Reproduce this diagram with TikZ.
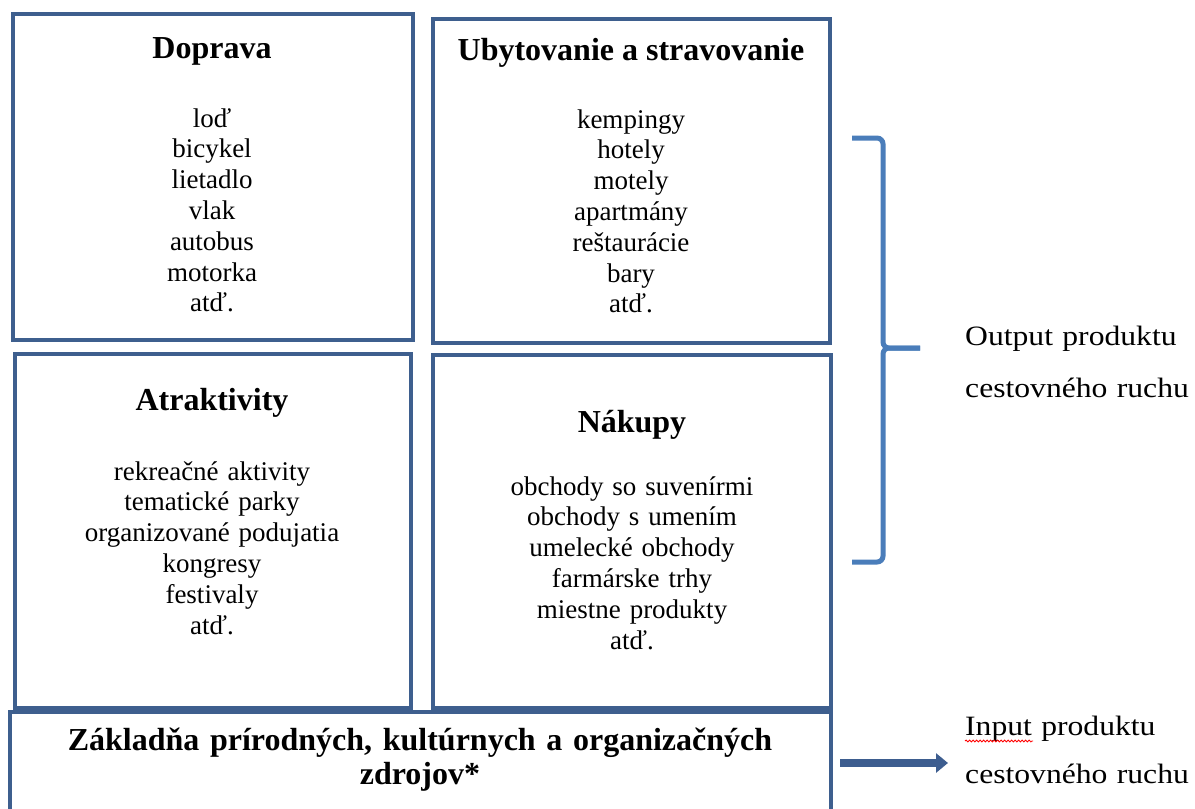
\documentclass[tikz,border=0pt]{standalone}
\usepackage{fontspec}
\setmainfont{Liberation Serif}
\newfontfamily\widefont[FakeStretch=1.13]{Liberation Serif}
\usetikzlibrary{arrows.meta,decorations.pathmorphing}
\definecolor{boxblue}{HTML}{3E5F8E}
\definecolor{braceblue}{HTML}{4A7DBA}
\definecolor{arrowblue}{HTML}{3D5D8F}
\tikzset{
  panel/.style={draw=boxblue, line width=4pt, rectangle, inner sep=0pt},
  heading/.style={font=\bfseries\fontsize{32}{36}\selectfont, anchor=base, inner sep=0pt},
  items/.style={font=\fontsize{27}{30.8}\selectfont, align=center, text width=390pt, anchor=base, inner sep=0pt},
  sidetext/.style={font=\widefont\fontsize{28}{#1}\selectfont, align=left, text width=235pt, anchor=base west, inner sep=0pt},
  bracket/.style={draw=braceblue, line width=5pt, rounded corners=6pt},
  flow/.style={draw=arrowblue, line width=8pt, -{Triangle[length=12pt 0 0, width=19pt 0 0]}},
}
\begin{document}
\begin{tikzpicture}[x=1pt, y=-1pt]
\useasboundingbox (0,0) rectangle (1195,809);
\clip (0,0) rectangle (1195,809);

% four service panels
\node[panel, minimum width=400pt, minimum height=326pt] (dop) at (213,177) {};
\node[panel, minimum width=397pt, minimum height=324pt] (uby) at (631.5,181) {};
\node[panel, minimum width=396pt, minimum height=354pt] (atr) at (213,531) {};
\node[panel, minimum width=398pt, minimum height=353pt] (nak) at (632,531.5) {};
% resource base (continues below the lower edge)
\node[panel, minimum width=821pt, minimum height=140pt] (zak) at (420.5,782) {};

% panel contents
\node[heading] (dopT) at (212,58) {Doprava};
\node[items] (dopL) at (212,127) {loď\\bicykel\\lietadlo\\vlak\\autobus\\motorka\\atď.};

\node[heading] (ubyT) at (631,60) {Ubytovanie a stravovanie};
\node[items] (ubyL) at (631,128) {kempingy\\hotely\\motely\\apartmány\\reštaurácie\\bary\\atď.};

\node[heading] (atrT) at (212,410) {Atraktivity};
\node[items] (atrL) at (212,480) {rekreačné aktivity\\tematické parky\\organizované podujatia\\kongresy\\festivaly\\atď.};

\node[heading] (nakT) at (632,432) {Nákupy};
\node[items] (nakL) at (632,495) {obchody so suvenírmi\\obchody s umením\\umelecké obchody\\farmárske trhy\\miestne produkty\\atď.};

\node[font=\bfseries\fontsize{32}{34}\selectfont, align=center, text width=810pt, anchor=base, inner sep=0pt] (zakT) at (420,750)
  {Základňa prírodných, kultúrnych a organizačných\\zdrojov*};

% output side
\draw[bracket] (852,138) -- (883,138) -- (883,348) -- (920,348);
\draw[bracket] (920,348) -- (883,348) -- (883,562) -- (852,562);
\node[sidetext=52] (out) at (965,345) {Output produktu\\cestovného ruchu};

% input side
\node[sidetext=48] (inp) at (965,735) {Input produktu\\cestovného ruchu};
\draw[red, line width=0.8pt, decorate, decoration={snake, amplitude=1pt, segment length=3.5pt}]
  ([yshift=-6pt]inp.base west) -- ++(68,0);
\coordinate (tip) at (948,763);
\draw[flow] ([xshift=7pt]zak.east |- tip) -- (tip);
\end{tikzpicture}
\end{document}
